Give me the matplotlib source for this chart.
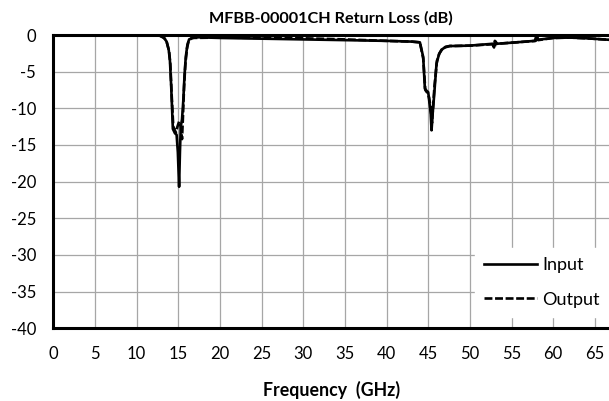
import matplotlib
matplotlib.use("Agg")
import matplotlib.pyplot as plt

plt.rcParams['font.family'] = ['Lato', 'DejaVu Sans']
plt.rcParams['axes.unicode_minus'] = False

title = "MFBB-00001CH Return Loss (dB)"
xlabel = "Frequency  (GHz)"
x_ticks = list(range(0, 70, 5))
y_ticks = list(range(-40, 1, 5))

freq_in = [0, 5, 10, 11, 12, 12.8, 13.3, 13.6, 13.85, 14.0, 14.15, 14.35, 14.6, 14.8,
           14.95, 15.1, 15.2, 15.3, 15.45, 15.6, 15.75, 15.9, 16.1, 16.3, 17,
           20, 25, 30, 35, 40, 43, 44.0, 44.4, 44.6, 44.8, 45.0, 45.3, 45.4, 45.55,
           45.7, 46.0, 46.3, 46.6, 47.0, 47.6, 48, 50, 52.7, 52.9, 53.0, 53.15,
           55, 57.8, 58.0, 58.15, 60, 62, 64, 66.7]
rl_in = [0, 0, -0.02, -0.03, -0.05, -0.1, -0.4, -0.9, -2.0, -3.5, -7.0, -12.8, -13.4, -13.6,
         -16.0, -20.7, -16.0, -12.5, -11.5, -9.0, -5.5, -3.0, -1.3, -0.6, -0.3,
         -0.4, -0.5, -0.6, -0.7, -0.8, -0.9, -1.0, -3.0, -7.3, -7.6, -7.8, -10.7, -13.0, -10.5,
         -8.4, -3.9, -2.6, -2.0, -1.7, -1.5, -1.5, -1.45, -1.2, -1.7, -0.8, -1.2,
         -1.05, -0.8, -0.05, -0.65, -0.4, -0.35, -0.45, -0.65]

freq_out = [0, 5, 10, 11, 12, 12.8, 13.3, 13.6, 13.9, 14.05, 14.2, 14.4, 14.7, 14.9,
            15.1, 15.3, 15.45, 15.55, 15.7, 15.85, 16.05, 16.25, 16.6,
            20, 25, 30, 35, 40, 43, 44.0, 44.4, 44.65, 44.9, 45.1, 45.3, 45.45, 45.6,
            45.75, 46.05, 46.35, 46.7, 47.1, 47.6, 48, 50, 52.8, 53.0, 53.1, 53.25,
            55, 57.9, 58.05, 58.2, 60, 62, 64, 66.7]
rl_out = [0, 0, -0.02, -0.03, -0.05, -0.1, -0.4, -0.9, -2.2, -4.0, -8.0, -12.5, -13.3, -12.5,
          -11.8, -12.5, -14.2, -11.5, -7.0, -4.0, -1.8, -0.8, -0.4,
          -0.35, -0.4, -0.45, -0.6, -0.8, -0.9, -1.0, -3.2, -7.5, -7.9, -8.5, -10.0, -12.0, -9.5,
          -7.0, -3.5, -2.5, -1.9, -1.6, -1.5, -1.5, -1.45, -1.25, -1.6, -0.9, -1.2,
          -1.05, -0.8, -0.1, -0.7, -0.4, -0.35, -0.45, -0.65]

fig = plt.figure(figsize=(6.09, 4.01), dpi=100)
ax = fig.add_axes([53.3 / 609, 1 - 328.3 / 401, 1 - 53.3 / 609, (328.3 - 35) / 401])

ax.plot(freq_in, rl_in, color='black', lw=1.9, label='Input', solid_joinstyle='round', zorder=3)
ax.plot(freq_out, rl_out, color='black', lw=1.9, ls=(0, (3, 1)), label='Output', zorder=3)

ax.set_xlim(0, 66.7)
ax.set_ylim(-40, 0)
ax.set_xticks(x_ticks)
ax.set_yticks(y_ticks)
ax.grid(True, color='#a6a6a6', lw=0.9)
ax.set_axisbelow(True)
ax.tick_params(length=0, labelsize=12)
ax.tick_params(axis='y', pad=12.5)
ax.tick_params(axis='x', pad=12.5)

for s in ['left', 'top', 'bottom']:
    ax.spines[s].set_linewidth(2.2)
    ax.spines[s].set_color('black')
ax.spines['right'].set_visible(False)
for sp in ax.spines.values():
    sp.set_zorder(4)
    sp.set_clip_on(False)

ax.set_title(title, fontsize=11.7, fontweight='bold', pad=9)
ax.set_xlabel(xlabel, fontsize=12.8, fontweight='bold', labelpad=14)

leg = ax.legend(loc='lower right', bbox_to_anchor=(1.0, 0.04), borderaxespad=0,
                fontsize=13, frameon=True, fancybox=False, framealpha=1,
                edgecolor='white', facecolor='white', handlelength=2.9,
                handletextpad=0.33, labelspacing=1.0, borderpad=0.5)
leg.set_zorder(5)

fig.savefig('out.png', dpi=100)
